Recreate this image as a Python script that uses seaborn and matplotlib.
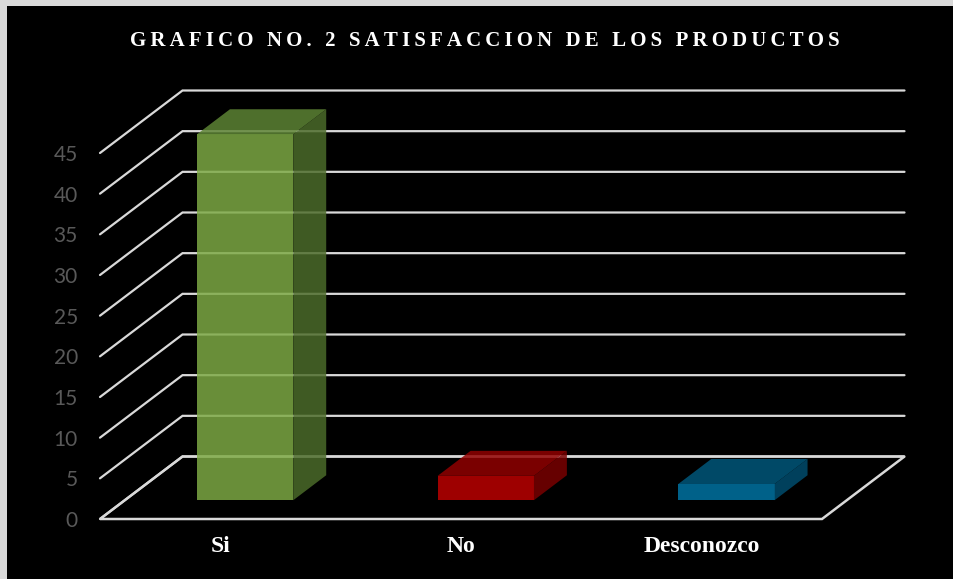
import matplotlib
matplotlib.use('Agg')
import matplotlib.pyplot as plt
from matplotlib.patches import Polygon, Rectangle
from matplotlib.transforms import Affine2D
import seaborn as sns

# datos del grafico
categorias = ['Si', 'No', 'Desconozco']
valores = [45, 3, 2]
ticks_y = [0, 5, 10, 15, 20, 25, 30, 35, 40, 45]
titulo = 'GRAFICO NO. 2 SATISFACCION DE LOS PRODUCTOS'

colores_frente = ['#7eaa45', '#be0000', '#0074a4']
colores_arriba = ['#5e8535', '#920000', '#00587c']
colores_lado = ['#4c6c2a', '#7a0000', '#004d6e']

sns.set_theme(style='white')
plt.rcParams['font.family'] = ['Liberation Serif', 'DejaVu Serif']

W, H = 954, 579
fig = plt.figure(figsize=(W / 100, H / 100), dpi=100, facecolor='#d9d9d9')
# fondo negro con el borde gris arriba y a la izquierda
fig.patches.append(Rectangle((7 / W, 0), 1, 1 - 6 / H, transform=fig.transFigure,
                             facecolor='black', edgecolor='none', zorder=-10))

# el plano frontal del grafico 3D
x_izq, x_der, y_cero, y_tope = 100, 822, 519, 153
ax = fig.add_axes([x_izq / W, (H - y_cero) / H, (x_der - x_izq) / W, (y_cero - y_tope) / H])
ax.set_facecolor('none')
for s in ax.spines.values():
    s.set_visible(False)

sns.barplot(x=categorias, y=valores, hue=categorias, palette=colores_frente,
            saturation=1, width=0.4, alpha=0.84, legend=False, ax=ax, zorder=5)
ax.set_xlim(-0.5, 2.5)
ax.set_ylim(0, 45)

# vector de profundidad en unidades de datos
px_x = (x_der - x_izq) / 3
px_y = (y_cero - y_tope) / 45
dx = 82.5 / px_x
dy = 62.5 / px_y
f0, f1 = 0.30, 0.70

# paredes: lineas de division y piso
for v in ticks_y:
    ax.plot([-0.5, -0.5 + dx, 2.5 + dx], [v, v + dy, v + dy], color='#d9d9d9',
            lw=1.6, clip_on=False, zorder=1, solid_joinstyle='miter')
ax.add_patch(Polygon([(-0.5, 0), (2.5, 0), (2.5 + dx, dy), (-0.5 + dx, dy)], closed=True,
                     facecolor='none', edgecolor='#d9d9d9', lw=1.8, clip_on=False, zorder=1))

# barras: cara frontal desplazada y caras de arriba y lado
desplaza = Affine2D().translate(f0 * dx * px_x, f0 * dy * px_y)
for i, p in enumerate(ax.patches[:len(valores)]):
    x0 = p.get_x()
    x1 = x0 + p.get_width()
    h = p.get_height()
    p.set_transform(ax.transData + desplaza)
    p.set_clip_on(False)
    p.set_edgecolor('none')
    arriba = [(x0 + f0 * dx, h + f0 * dy), (x1 + f0 * dx, h + f0 * dy),
              (x1 + f1 * dx, h + f1 * dy), (x0 + f1 * dx, h + f1 * dy)]
    lado = [(x1 + f0 * dx, f0 * dy), (x1 + f1 * dx, f1 * dy),
            (x1 + f1 * dx, h + f1 * dy), (x1 + f0 * dx, h + f0 * dy)]
    ax.add_patch(Polygon(arriba, closed=True, facecolor=colores_arriba[i], edgecolor='none',
                         alpha=0.84, clip_on=False, zorder=5))
    ax.add_patch(Polygon(lado, closed=True, facecolor=colores_lado[i], edgecolor='none',
                         alpha=0.84, clip_on=False, zorder=5))

# ejes
ax.set_yticks(ticks_y)
ax.set_yticklabels([str(t) for t in ticks_y], family=['Lato', 'DejaVu Sans'],
                   fontsize=15, color='#595959')
ax.tick_params(axis='y', length=0, pad=16)
ax.set_xticks(range(len(categorias)))
ax.set_xticklabels(categorias, fontsize=17, fontweight='bold', color='white')
ax.tick_params(axis='x', length=0, pad=12)
ax.set_xlabel('')
ax.set_ylabel('')

# titulo con letras espaciadas
titulo_esp = '\u2009'.join(titulo)
fig.text(485 / W, 1 - 41 / H, titulo_esp, ha='center', va='center', color='white',
         fontsize=15, fontweight='bold')

fig.savefig('out.png', dpi=100, facecolor=fig.get_facecolor())
